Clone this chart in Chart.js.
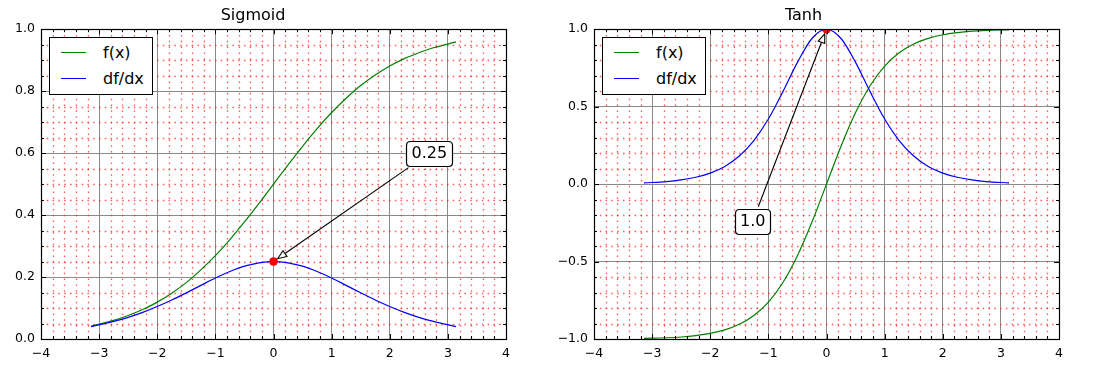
<!DOCTYPE html>
<html>
<head>
<meta charset="utf-8">
<script src="https://cdn.jsdelivr.net/npm/chart.js@4.4.1/dist/chart.umd.min.js"></script>
<style>
  html,body{margin:0;padding:0;background:#fff;}
  body{width:1096px;height:371px;position:relative;overflow:hidden;font-family:"DejaVu Sans",sans-serif;}
  canvas{position:absolute;top:0;}
  .legend{position:absolute;box-sizing:border-box;border:1px solid #000;background:#fff;width:104px;height:58px;top:37px;}
  .legend .row{position:absolute;left:0;right:0;height:20px;line-height:20px;font-size:16px;color:#000;}
  .legend .swatch{position:absolute;top:9px;height:0;border-top:1.5px solid;}
  .legend .label{position:absolute;left:53px;top:0;white-space:nowrap;}
</style>
</head>
<body>
<canvas id="sigmoidChart" width="548" height="371" style="left:0"></canvas>
<canvas id="tanhChart" width="548" height="371" style="left:548px"></canvas>
<div class="legend" id="sigmoidLegend" style="left:49px"></div>
<div class="legend" id="tanhLegend" style="left:602px"></div>
<script>
  // sample points
  const xValues=[-3.14,-2.75,-2.5,-2.25,-2,-1.75,-1.5,-1.25,-1,-0.75,-0.5,-0.25,0,0.25,0.5,0.75,1,1.25,1.5,1.75,2,2.25,2.5,2.75,3.14];
  const sigmoidValues=[0.041,0.060,0.076,0.095,0.119,0.148,0.182,0.223,0.269,0.321,0.378,0.438,0.5,0.562,0.622,0.679,0.731,0.777,0.818,0.852,0.881,0.905,0.924,0.940,0.959];
  const sigmoidSlope=[0.040,0.057,0.070,0.086,0.105,0.126,0.149,0.173,0.197,0.218,0.235,0.246,0.25,0.246,0.235,0.218,0.197,0.173,0.149,0.126,0.105,0.086,0.070,0.057,0.040];
  const tanhValues=[-0.996,-0.992,-0.987,-0.978,-0.964,-0.941,-0.905,-0.848,-0.762,-0.635,-0.462,-0.245,0,0.245,0.462,0.635,0.762,0.848,0.905,0.941,0.964,0.978,0.987,0.992,0.996];
  const tanhSlope=[0.008,0.016,0.027,0.044,0.071,0.114,0.181,0.281,0.420,0.597,0.786,0.940,1.0,0.940,0.786,0.597,0.420,0.281,0.181,0.114,0.071,0.044,0.027,0.016,0.008];

  const seriesNames=['f(x)','df/dx'];
  const chartTitles=['Sigmoid','Tanh'];
  const xTickLabels=['\u22124','\u22123','\u22122','\u22121','0','1','2','3','4'];
  const sigmoidYTickLabels=['0.0','0.2','0.4','0.6','0.8','1.0'];
  const tanhYTickLabels=['\u22121.0','\u22120.5','0.0','0.5','1.0'];

  const sigmoidPeak=[0,0.25];
  const tanhPeak=[0,1.0];
  const sigmoidNoteAt=[2.68,0.6];
  const tanhNoteAt=[-1.27,-0.24];
  const noteTexts=['0.25','1.0'];

  const GREEN='#008000';
  const BLUE='#0000ff';
  const FONT='"DejaVu Sans"';

  function toPoints(xs,ys){
    return xs.map((x,i)=>({x,y:ys[i]}));
  }

  function gridSteps(min,max,step){
    const out=[];
    const n=Math.round((max-min)/step);
    for(let k=0;k<=n;k++)out.push(min+k*step);
    return out;
  }

  function isMultiple(v,m){
    const r=v/m;
    return Math.abs(r-Math.round(r))<1e-6;
  }

  // red dotted minor grid, inward ticks and frame like the classic matplotlib look
  const axesDecor={
    id:'axesDecor',
    beforeDatasetsDraw(chart,args,opts){
      const {ctx,chartArea:{left,right,top,bottom}}=chart;
      const xs=chart.scales.x,ys=chart.scales.y;
      ctx.save();
      ctx.strokeStyle='rgba(255,30,30,0.75)';
      ctx.lineWidth=1.3;
      ctx.setLineDash([1.5,4.3]);
      gridSteps(xs.min,xs.max,opts.xMinor).forEach(v=>{
        if(isMultiple(v,opts.xMajor))return;
        const px=Math.round(xs.getPixelForValue(v))+0.5;
        ctx.beginPath();ctx.moveTo(px,top);ctx.lineTo(px,bottom);ctx.stroke();
      });
      gridSteps(ys.min,ys.max,opts.yMinor).forEach(v=>{
        if(isMultiple(v,opts.yMajor))return;
        const py=Math.round(ys.getPixelForValue(v))+0.5;
        ctx.beginPath();ctx.moveTo(left,py);ctx.lineTo(right,py);ctx.stroke();
      });
      ctx.restore();
    },
    afterDatasetsDraw(chart,args,opts){
      const {ctx,chartArea:{left,right,top,bottom}}=chart;
      const xs=chart.scales.x,ys=chart.scales.y;
      ctx.save();
      ctx.strokeStyle='#000';
      ctx.lineWidth=1;
      gridSteps(xs.min,xs.max,opts.xMinor).forEach(v=>{
        const len=isMultiple(v,opts.xMajor)?5:3;
        const px=Math.round(xs.getPixelForValue(v))+0.5;
        ctx.beginPath();
        ctx.moveTo(px,bottom);ctx.lineTo(px,bottom-len);
        ctx.moveTo(px,top);ctx.lineTo(px,top+len);
        ctx.stroke();
      });
      gridSteps(ys.min,ys.max,opts.yMinor).forEach(v=>{
        const len=isMultiple(v,opts.yMajor)?5:3;
        const py=Math.round(ys.getPixelForValue(v))+0.5;
        ctx.beginPath();
        ctx.moveTo(left,py);ctx.lineTo(left+len,py);
        ctx.moveTo(right,py);ctx.lineTo(right-len,py);
        ctx.stroke();
      });
      ctx.lineWidth=1.2;
      ctx.strokeRect(Math.round(left)+0.5,Math.round(top)+0.5,Math.round(right-left),Math.round(bottom-top));
      ctx.restore();
    }
  };

  function roundedBox(ctx,x,y,w,h,r){
    ctx.beginPath();
    ctx.moveTo(x+r,y);
    ctx.lineTo(x+w-r,y);ctx.quadraticCurveTo(x+w,y,x+w,y+r);
    ctx.lineTo(x+w,y+h-r);ctx.quadraticCurveTo(x+w,y+h,x+w-r,y+h);
    ctx.lineTo(x+r,y+h);ctx.quadraticCurveTo(x,y+h,x,y+h-r);
    ctx.lineTo(x,y+r);ctx.quadraticCurveTo(x,y,x+r,y);
    ctx.closePath();
  }

  // boxed text with an open-headed arrow pointing at the peak
  const peakNote={
    id:'peakNote',
    afterDraw(chart,args,opts){
      const {ctx}=chart;
      const xs=chart.scales.x,ys=chart.scales.y;
      const px=xs.getPixelForValue(opts.target[0]),py=ys.getPixelForValue(opts.target[1]);
      const cx=xs.getPixelForValue(opts.at[0]),cy=ys.getPixelForValue(opts.at[1]);
      ctx.save();
      ctx.font='16px '+FONT;
      const w=ctx.measureText(opts.text).width+10,h=25;
      let dx=px-cx,dy=py-cy;
      const dist=Math.hypot(dx,dy);
      const ux=dx/dist,uy=dy/dist;
      const t=Math.min((w/2+2)/Math.abs(dx||1e-9),(h/2+2)/Math.abs(dy||1e-9));
      const sx=cx+dx*t,sy=cy+dy*t;
      const ex=px-ux*5,ey=py-uy*5;
      const headLen=9,headHalf=3.5;
      const bx=ex-ux*headLen,by=ey-uy*headLen;
      ctx.strokeStyle='#000';
      ctx.lineWidth=1.1;
      ctx.beginPath();ctx.moveTo(sx,sy);ctx.lineTo(bx,by);ctx.stroke();
      ctx.beginPath();
      ctx.moveTo(ex,ey);
      ctx.lineTo(bx-uy*headHalf,by+ux*headHalf);
      ctx.lineTo(bx+uy*headHalf,by-ux*headHalf);
      ctx.closePath();
      ctx.fillStyle='#fff';ctx.fill();ctx.stroke();
      roundedBox(ctx,Math.round(cx-w/2)+0.5,Math.round(cy-h/2)+0.5,Math.round(w),h,4);
      ctx.fillStyle='#fff';ctx.fill();
      ctx.lineWidth=1.2;ctx.stroke();
      ctx.fillStyle='#000';
      ctx.textAlign='center';ctx.textBaseline='middle';
      ctx.fillText(opts.text,cx,cy+1);
      ctx.restore();
    }
  };

  function makeChart(canvasId,cfg){
    return new Chart(document.getElementById(canvasId),{
      type:'line',
      data:{
        datasets:[
          {label:'peak',data:[{x:cfg.peak[0],y:cfg.peak[1]}],showLine:false,pointRadius:4,pointBackgroundColor:'#ff0000',pointBorderColor:'#cc0000',pointBorderWidth:0.5,clip:0},
          {label:seriesNames[1],data:toPoints(xValues,cfg.slope),borderColor:BLUE,borderWidth:1.2,pointRadius:0,cubicInterpolationMode:'monotone',fill:false},
          {label:seriesNames[0],data:toPoints(xValues,cfg.values),borderColor:GREEN,borderWidth:1.2,pointRadius:0,cubicInterpolationMode:'monotone',fill:false}
        ]
      },
      options:{
        responsive:false,
        animation:false,
        devicePixelRatio:1,
        events:[],
        layout:{autoPadding:false,padding:{left:0,right:cfg.padRight,top:0,bottom:0}},
        plugins:{
          legend:{display:false},
          tooltip:{enabled:false},
          title:{display:true,text:cfg.title,color:'#000',font:{family:FONT,size:16,weight:'normal'},padding:{top:6,bottom:4}},
          axesDecor:{xMinor:0.2,xMajor:1,yMinor:cfg.yMinor,yMajor:cfg.yStep},
          peakNote:{text:cfg.note,target:cfg.peak,at:cfg.noteAt}
        },
        scales:{
          x:{
            type:'linear',min:-4,max:4,
            afterFit:s=>{s.height=32;},
            grid:{color:'#8a8a8a',lineWidth:1,drawTicks:false},
            border:{display:false},
            ticks:{stepSize:1,autoSkip:false,maxRotation:0,padding:7,color:'#000',font:{family:FONT,size:12.5},
              callback:(v,i)=>xTickLabels[i]}
          },
          y:{
            type:'linear',min:cfg.yMin,max:cfg.yMax,
            afterFit:s=>{s.width=cfg.yWidth;},
            grid:{color:'#8a8a8a',lineWidth:1,drawTicks:false},
            border:{display:false},
            ticks:{stepSize:cfg.yStep,autoSkip:false,padding:6,color:'#000',font:{family:FONT,size:12.5},
              callback:(v,i)=>cfg.yLabels[i]}
          }
        }
      },
      plugins:[axesDecor,peakNote]
    });
  }

  function buildLegend(id){
    const box=document.getElementById(id);
    const colors=[GREEN,BLUE];
    const rows=[5,31];
    seriesNames.forEach((name,i)=>{
      const row=document.createElement('div');
      row.className='row';
      row.style.top=rows[i]+'px';
      row.innerHTML='<span class="swatch" style="left:11px;width:25px;border-color:'+colors[i]+'"></span><span class="label">'+name+'</span>';
      box.appendChild(row);
    });
  }

  makeChart('sigmoidChart',{
    title:chartTitles[0],values:sigmoidValues,slope:sigmoidSlope,
    yMin:0,yMax:1,yStep:0.2,yMinor:0.05,yLabels:sigmoidYTickLabels,
    yWidth:41,padRight:42,peak:sigmoidPeak,note:noteTexts[0],noteAt:sigmoidNoteAt
  });
  makeChart('tanhChart',{
    title:chartTitles[1],values:tanhValues,slope:tanhSlope,
    yMin:-1,yMax:1,yStep:0.5,yMinor:0.1,yLabels:tanhYTickLabels,
    yWidth:46,padRight:37,peak:tanhPeak,note:noteTexts[1],noteAt:tanhNoteAt
  });
  buildLegend('sigmoidLegend');
  buildLegend('tanhLegend');
</script>
</body>
</html>
